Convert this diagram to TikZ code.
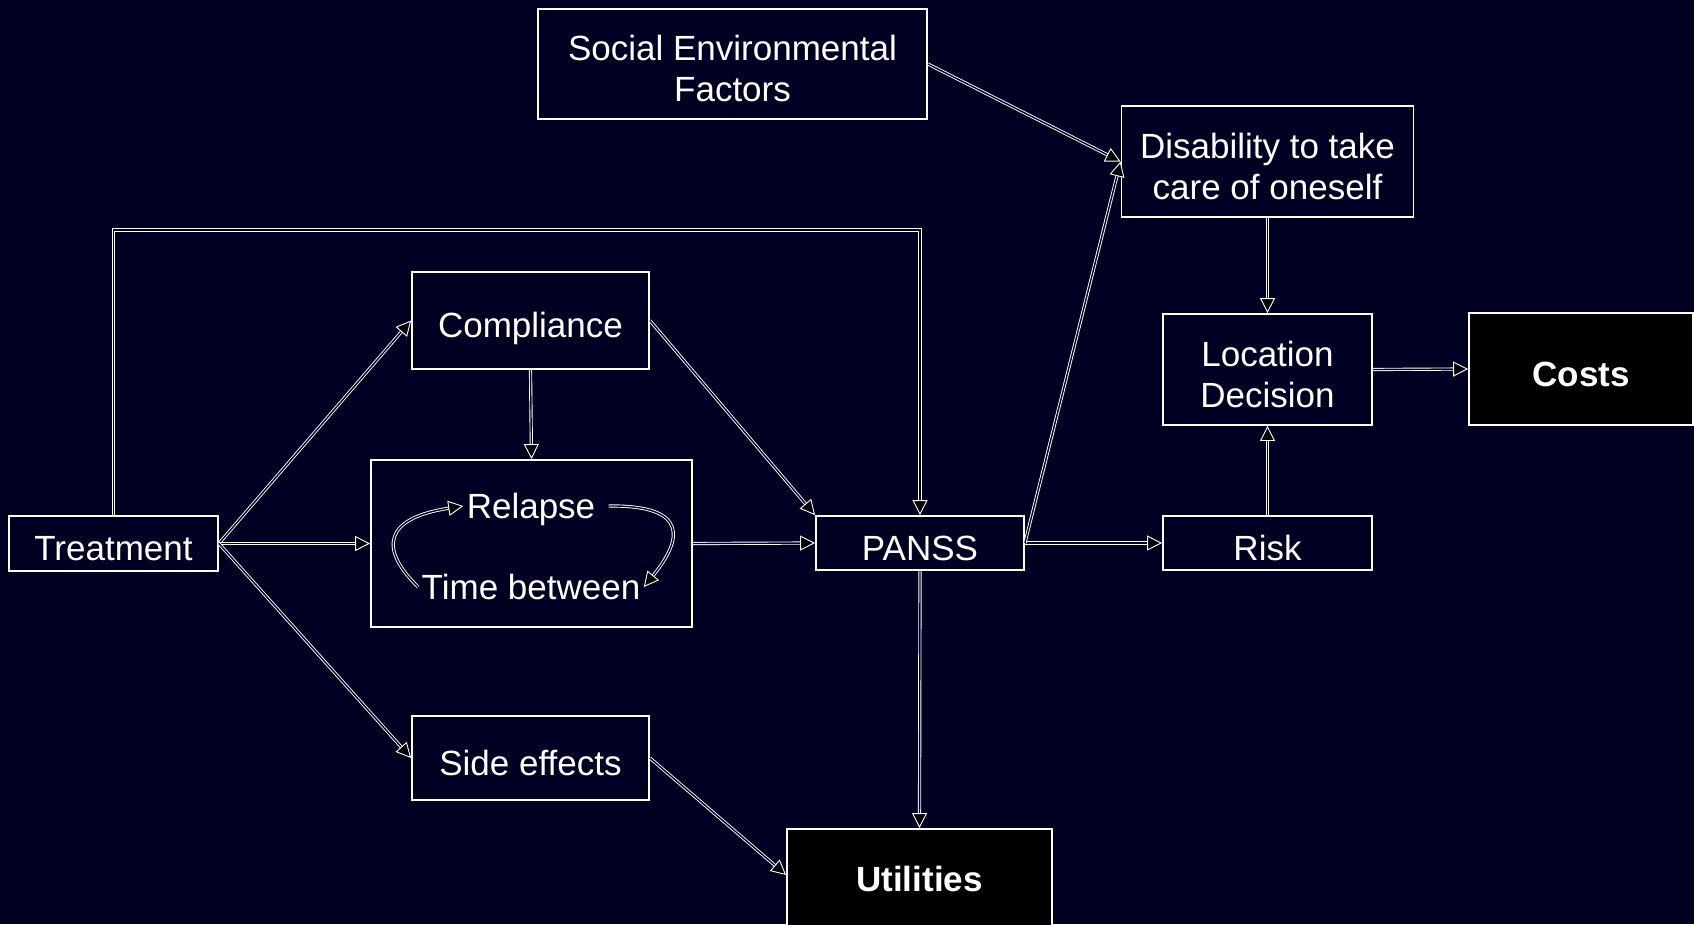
\documentclass[tikz,border=0pt]{standalone}
\usepackage{fontspec}
\setmainfont{Liberation Sans}
\usetikzlibrary{arrows.meta}
\definecolor{navy}{RGB}{0,0,34}
\tikzset{t/.style={text=white, text depth=0pt, font=\fontsize{35}{41}\selectfont}}
\tikzset{b/.style={t, text height=34pt, draw=white, line width=1.8pt, align=center}}
\tikzset{bb/.style={b, text height=75pt}}
\tikzset{k/.style={b, fill=black, font=\fontsize{35}{41}\selectfont\bfseries}}
\tikzset{a/.style={draw=white, line width=0.9pt, double=navy, double distance=1.4pt,
  -{Triangle[fill=black, length=15pt, width=15pt]}}}

\begin{document}
\begin{tikzpicture}[x=1pt, y=-1pt]
  \fill[navy] (0,0) rectangle (1694,924);
  \useasboundingbox (0,0) rectangle (1694,924);
  \node[k, text height=25pt, text depth=20pt, minimum width=265, minimum height=120] (util) at (919.5,889) {Utilities};
  \node[k, minimum width=224, minimum height=112] (costs) at (1581,369) {Costs};
  \node[bb, minimum width=389, minimum height=110] (soc) at (732.5,64) {Social Environmental\\Factors};
  \node[bb, minimum width=292, minimum height=111] (dis) at (1267.5,161.5) {Disability to take\\ care of oneself};
  \node[bb, minimum width=209, minimum height=111] (loc) at (1267.5,369.5) {Location\\Decision};
  \node[b, minimum width=237, minimum height=97] (comp) at (530.5,320.5) {Compliance};
  \node[b, minimum width=209, minimum height=55] (treat) at (113.5,543.5) {Treatment};
  \node[b, minimum width=321, minimum height=167] (rel) at (531.5,543.5) {};
  \node[t] (relt) at (531,506) {Relapse};
  \node[t] (timet) at (531,587) {Time between};
  \node[b, minimum width=208, minimum height=54] (panss) at (920,543) {PANSS};
  \node[b, minimum width=209, minimum height=54] (risk) at (1267.5,543) {Risk};
  \node[b, minimum width=237, minimum height=84] (side) at (530.5,758) {Side effects};
  \coordinate (bend) at (920,230);

  \draw[a] (treat.north) |- (bend) -- (panss.north);
  \draw[a] (treat.east) -- (comp.west);
  \draw[a] (treat.east) -- (rel.west);
  \draw[a] (treat.east) -- (side.west);
  \draw[a] (comp.south) -- (rel.north);
  \draw[a] (comp.east) -- (panss.north west);
  \draw[a] (rel.east) -- (panss.west);
  \draw[a] (side.east) -- ([yshift=14pt]util.west);
  \draw[a] (panss.south) -- (util.north);
  \draw[a] (panss.east) -- (risk.west);
  \draw[a] (panss.east) -- (dis.west);
  \draw[a] (soc.east) -- (dis.west);
  \draw[a] (dis.south) -- (loc.north);
  \draw[a] (risk.north) -- (loc.south);
  \draw[a] (loc.east) -- (costs.west);
  \draw[a] (timet.west) .. controls (378,548) and (385,518) .. (relt.west);
  \draw[a] ([xshift=10pt]relt.east) .. controls (690,505) and (682,540) .. (timet.east);
\end{tikzpicture}
\end{document}
